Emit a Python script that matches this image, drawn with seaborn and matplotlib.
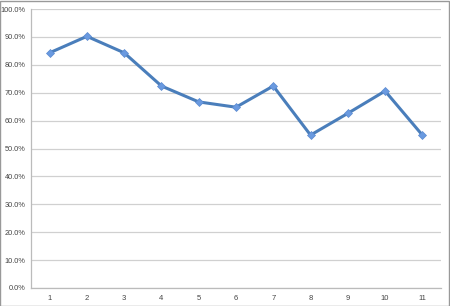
import matplotlib
matplotlib.use("Agg")
import matplotlib.pyplot as plt
import seaborn as sns
import pandas as pd
from matplotlib.ticker import FixedLocator, FuncFormatter
from matplotlib.patches import Rectangle

categories = [1, 2, 3, 4, 5, 6, 7, 8, 9, 10, 11]
values = [84.3, 90.2, 84.3, 72.4, 66.7, 64.8, 72.4, 54.8, 62.6, 70.6, 54.8]
y_ticks = [0, 10, 20, 30, 40, 50, 60, 70, 80, 90, 100]

df = pd.DataFrame({"cat": categories, "val": values})

sns.set_style("white")
plt.rcParams['font.family'] = ['Liberation Sans', 'DejaVu Sans']

fig = plt.figure(figsize=(4.5, 3.06), dpi=100)
ax = fig.add_axes([31/450, 1-288/306, 410/450, 279/306])

sns.lineplot(data=df, x="cat", y="val", ax=ax, color="#4a7ebb", linewidth=2.2,
             marker="D", markersize=4, markerfacecolor="#6a9ae0",
             markeredgecolor="#5a8ad0", markeredgewidth=0.5)

ax.set_xlim(0.5, 11.5)
ax.set_ylim(0, 100)
ax.set_yticks(y_ticks)
ax.yaxis.set_major_formatter(FuncFormatter(lambda v, p: f"{v:.1f}%"))
ax.set_xticks(categories)
ax.xaxis.set_minor_locator(FixedLocator([c + 0.5 for c in categories[:-1]]))
ax.tick_params(axis="x", which="major", length=0, labelsize=5.5, labelcolor="#444444", pad=5)
ax.tick_params(axis="x", which="minor", length=3, color="#bbbbbb", width=0.8, direction="out")
ax.tick_params(axis="y", which="major", length=2, color="#bbbbbb", labelsize=5.3, labelcolor="#444444", pad=2)
ax.set_xlabel("")
ax.set_ylabel("")
ax.grid(axis="y", color="#d0d0d0", linewidth=0.9)
ax.set_axisbelow(True)
for s in ["top", "right"]:
    ax.spines[s].set_visible(False)
ax.spines["left"].set_color("#bbbbbb")
ax.spines["bottom"].set_color("#bbbbbb")
ax.spines["left"].set_linewidth(0.9)
ax.spines["bottom"].set_linewidth(0.9)

fig.patches.append(Rectangle((0.001, 0.001), 0.997, 0.996, transform=fig.transFigure,
                             fill=False, edgecolor="#999999", linewidth=1.0))

fig.savefig("out.png", dpi=100)
